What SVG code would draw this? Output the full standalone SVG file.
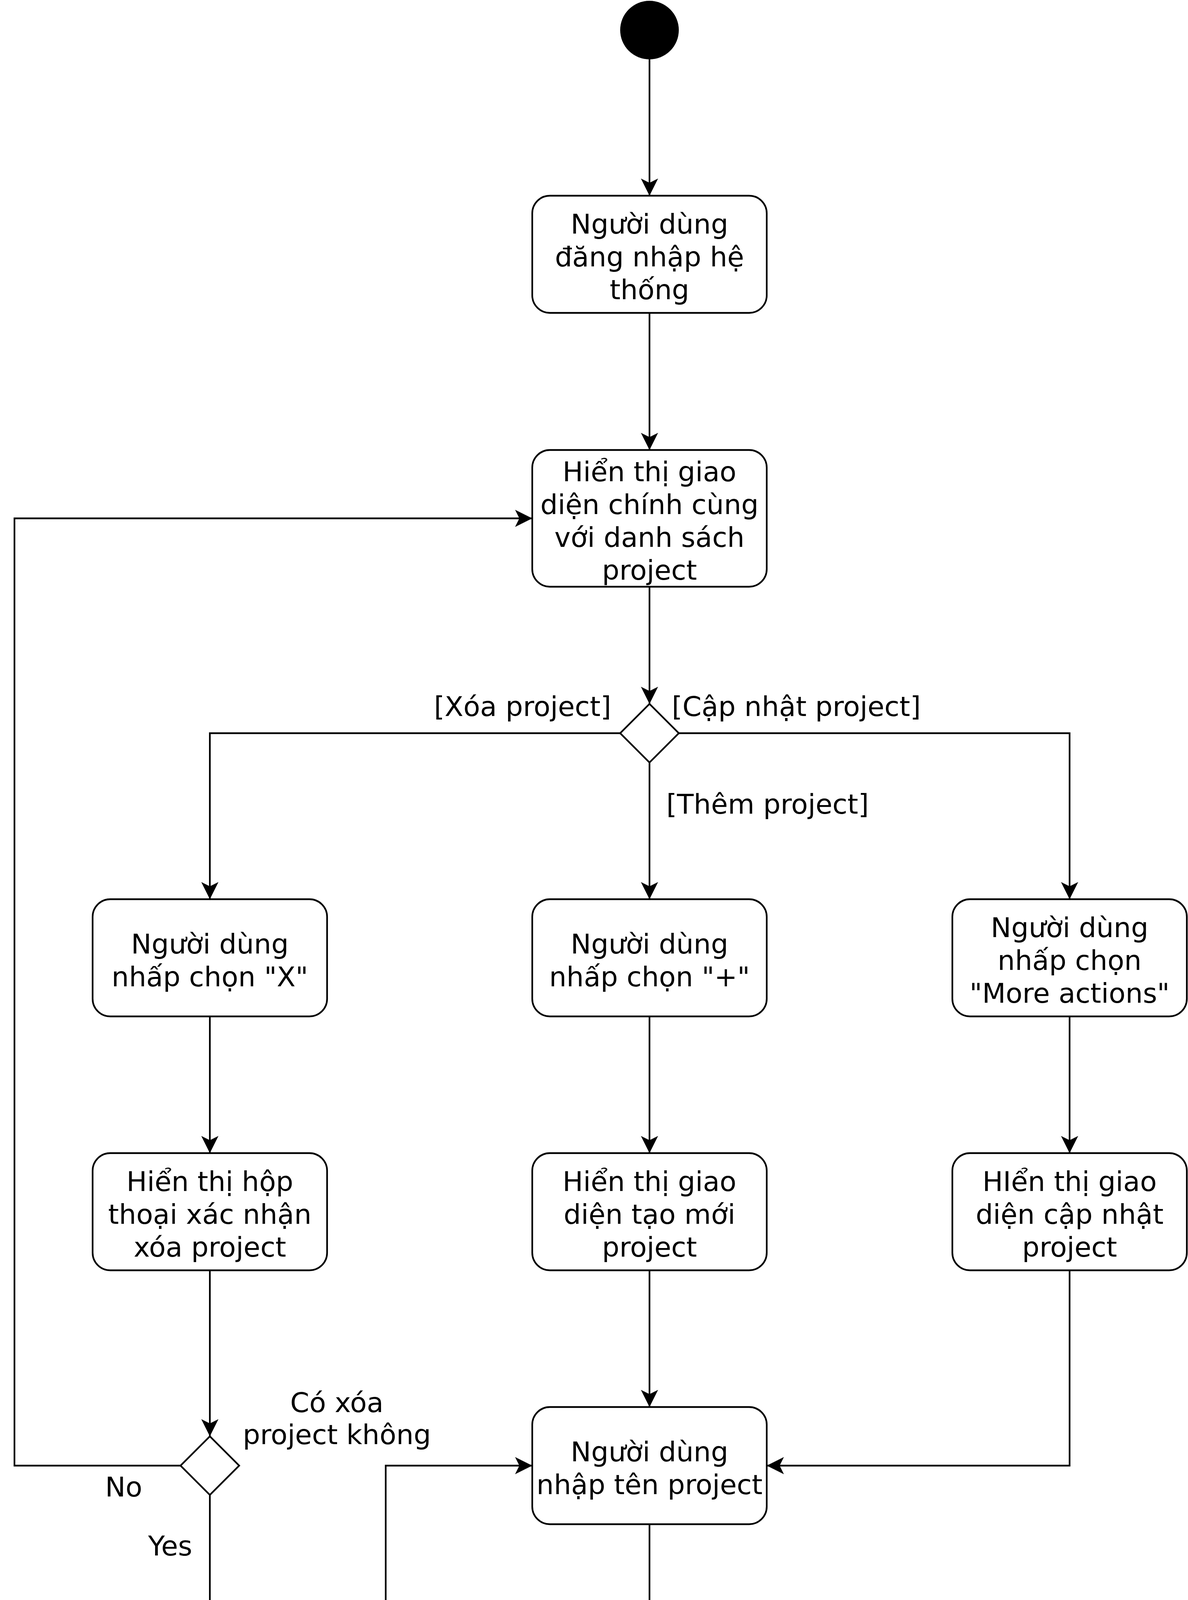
<svg xmlns="http://www.w3.org/2000/svg" width="3040" height="6855" viewBox="0 0 3040 6855">
<defs>
<style>
.box{fill:#fff;stroke:#000;stroke-width:4.3}
.dia{fill:#fff;stroke:#000;stroke-width:4.3}
.t{font-family:"DejaVu Sans","Liberation Sans",sans-serif;font-size:70px;fill:#000;text-anchor:middle}
.l{font-family:"DejaVu Sans","Liberation Sans",sans-serif;font-size:70px;fill:#000}
.c{fill:none;stroke:#000;stroke-width:4.3;marker-end:url(#arr)}
</style>
<marker id="arr" markerUnits="userSpaceOnUse" viewBox="0 0 44 44" markerWidth="44" markerHeight="44" refX="44" refY="22" orient="auto">
<path d="M44,22 L0,0 L11,22 L0,44 Z" fill="#000"/>
</marker>
</defs>
<rect width="3040" height="6855" fill="#fff"/>

<g id="connectors">
<path class="c" d="M1662,152 L1662,501"/>
<path class="c" d="M1662,802 L1662,1152"/>
<path class="c" d="M1662,1502 L1662,1802"/>
<path class="c" d="M1587,1877 L537,1877 L537,2302"/>
<path class="c" d="M1662,1952 L1662,2302"/>
<path class="c" d="M1737,1877 L2737,1877 L2737,2302"/>
<path class="c" d="M537,2602 L537,2952"/>
<path class="c" d="M1662,2602 L1662,2952"/>
<path class="c" d="M2737,2602 L2737,2952"/>
<path class="c" d="M537,3252 L537,3677"/>
<path class="c" d="M1662,3252 L1662,3602"/>
<path class="c" d="M2737,3252 L2737,3752 L1962,3752"/>
<path class="c" d="M462,3752 L37,3752 L37,1327 L1362,1327"/>
<path class="c" d="M537,3827 L537,6102 L1362,6102"/>
<path class="c" d="M1662,3902 L1662,4252"/>
<path class="c" d="M1662,4552 L1662,4852"/>
<path class="c" d="M1587,4927 L1287,4927"/>
<path class="c" d="M987,4777 L987,3752 L1362,3752"/>
<path class="c" d="M1662,5002 L1662,5302"/>
<path class="c" d="M1662,5602 L1662,5952"/>
<path class="c" d="M1662,6252 L1662,6702"/>
</g>

<g id="labels">
<text class="l" x="1564" y="1833" text-anchor="end">[Xóa project]</text>
<text class="l" x="1719" y="1833">[Cập nhật project]</text>
<text class="l" x="1705" y="2083">[Thêm project]</text>
<text class="t" x="862" y="3615">Có xóa</text>
<text class="t" x="862" y="3697">project không</text>
<text class="l" x="269" y="3831">No</text>
<text class="l" x="379" y="3982">Yes</text>
<text class="l" x="1716" y="4832">Tên project có hợp lệ</text>
<text class="l" x="1442" y="5032">No</text>
<text class="l" x="1731" y="5131">Yes</text>
</g>

<g id="start"><circle cx="1662" cy="77" r="75" fill="#000"/></g>

<g id="n1">
<rect class="box" x="1362" y="501" width="600" height="300" rx="45"/>
<text class="t" x="1662" y="598">Người dùng</text>
<text class="t" x="1662" y="682">đăng nhập hệ</text>
<text class="t" x="1662" y="766">thống</text>
</g>

<g id="n2">
<rect class="box" x="1362" y="1152" width="600" height="350" rx="45"/>
<text class="t" x="1662" y="1232">Hiển thị giao</text>
<text class="t" x="1662" y="1316">diện chính cùng</text>
<text class="t" x="1662" y="1400">với danh sách</text>
<text class="t" x="1662" y="1484">project</text>
</g>

<g id="d1"><polygon class="dia" points="1662,1802 1737,1877 1662,1952 1587,1877"/></g>

<g id="n3">
<rect class="box" x="237" y="2302" width="600" height="300" rx="45"/>
<text class="t" x="537" y="2441">Người dùng</text>
<text class="t" x="537" y="2525">nhấp chọn "X"</text>
</g>

<g id="n4">
<rect class="box" x="1362" y="2302" width="600" height="300" rx="45"/>
<text class="t" x="1662" y="2441">Người dùng</text>
<text class="t" x="1662" y="2525">nhấp chọn "+"</text>
</g>

<g id="n5">
<rect class="box" x="2437" y="2302" width="600" height="300" rx="45"/>
<text class="t" x="2737" y="2399">Người dùng</text>
<text class="t" x="2737" y="2483">nhấp chọn</text>
<text class="t" x="2737" y="2567">"More actions"</text>
</g>

<g id="n6">
<rect class="box" x="237" y="2952" width="600" height="300" rx="45"/>
<text class="t" x="537" y="3049">Hiển thị hộp</text>
<text class="t" x="537" y="3133">thoại xác nhận</text>
<text class="t" x="537" y="3217">xóa project</text>
</g>

<g id="n7">
<rect class="box" x="1362" y="2952" width="600" height="300" rx="45"/>
<text class="t" x="1662" y="3049">Hiển thị giao</text>
<text class="t" x="1662" y="3133">diện tạo mới</text>
<text class="t" x="1662" y="3217">project</text>
</g>

<g id="n8">
<rect class="box" x="2437" y="2952" width="600" height="300" rx="45"/>
<text class="t" x="2737" y="3049">HIển thị giao</text>
<text class="t" x="2737" y="3133">diện cập nhật</text>
<text class="t" x="2737" y="3217">project</text>
</g>

<g id="d2"><polygon class="dia" points="537,3677 612,3752 537,3827 462,3752"/></g>

<g id="n9">
<rect class="box" x="1362" y="3602" width="600" height="300" rx="45"/>
<text class="t" x="1662" y="3741">Người dùng</text>
<text class="t" x="1662" y="3825">nhập tên project</text>
</g>

<g id="n10">
<rect class="box" x="1362" y="4252" width="600" height="300" rx="45"/>
<text class="t" x="1662" y="4391">Kiểm tra tên</text>
<text class="t" x="1662" y="4475">project</text>
</g>

<g id="d3"><polygon class="dia" points="1662,4852 1737,4927 1662,5002 1587,4927"/></g>

<g id="n11">
<rect class="box" x="687" y="4777" width="600" height="300" rx="45"/>
<text class="t" x="987" y="4874">Thông báo tên</text>
<text class="t" x="987" y="4958">project không</text>
<text class="t" x="987" y="5042">hợp lệ</text>
</g>

<g id="n12">
<rect class="box" x="1362" y="5302" width="600" height="300" rx="45"/>
<text class="t" x="1662" y="5483">Nhấp "Save"</text>
</g>

<g id="n13">
<rect class="box" x="1362" y="5952" width="600" height="300" rx="45"/>
<text class="t" x="1662" y="6133">Cập nhật project</text>
</g>

<g id="end">
<circle cx="1662" cy="6777" r="74" fill="#fff" stroke="#000" stroke-width="4.3"/>
<circle cx="1662" cy="6777" r="56" fill="#000"/>
</g>
</svg>
